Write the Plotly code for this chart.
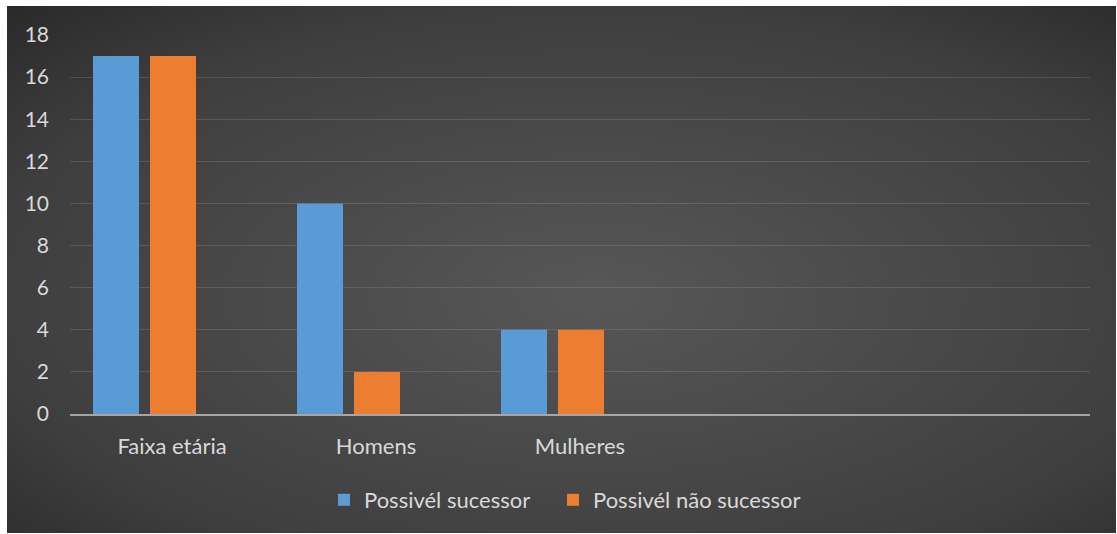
import base64
import plotly.graph_objects as go

# ---- data ----
categories = ["Faixa etária", "Homens", "Mulheres"]
series_names = ["Possivél sucessor", "Possivél não sucessor"]
possivel_sucessor = [17, 10, 4]
possivel_nao_sucessor = [17, 2, 4]
y_ticks = [0, 2, 4, 6, 8, 10, 12, 14, 16, 18]

W, H = 1117, 534
L, R, T, B = 70, 1090, 35, 414  # plot area in pixels
pw, ph = R - L, B - T

def px_x(p):
    return (p - L) / pw

def px_y(p):
    return (B - p) / ph

svg = (
    '<svg xmlns="http://www.w3.org/2000/svg" width="1109" height="527" preserveAspectRatio="none">'
    '<defs><radialGradient id="g" cx="0.53" cy="0.55" r="0.78">'
    '<stop offset="0" stop-color="#575757"/>'
    '<stop offset="0.7" stop-color="#3e3e3e"/>'
    '<stop offset="1" stop-color="#282828"/>'
    '</radialGradient></defs>'
    '<rect width="1109" height="527" fill="url(#g)"/></svg>'
)
bg_src = "data:image/svg+xml;base64," + base64.b64encode(svg.encode()).decode()

font_family = "Lato, Calibri, Carlito, sans-serif"
txt_color = "#d9d9d9"

fig = go.Figure()
fig.add_trace(go.Bar(
    x=categories, y=possivel_sucessor, name=series_names[0],
    marker=dict(color="#5b9bd5", line=dict(width=0)),
    width=46 / 204, offset=(93 - 172) / 204,
    legend="legend",
))
fig.add_trace(go.Bar(
    x=categories, y=possivel_nao_sucessor, name=series_names[1],
    marker=dict(color="#ed7d31", line=dict(width=0)),
    width=46 / 204, offset=(150 - 172) / 204,
    legend="legend2",
))

leg_common = dict(
    orientation="h", xanchor="left", y=px_y(500), yanchor="middle",
    font=dict(family=font_family, size=22, color=txt_color),
    bgcolor="rgba(0,0,0,0)",
)

fig.update_layout(
    width=W, height=H,
    margin=dict(l=L, r=W - R, t=T, b=H - B, pad=0),
    paper_bgcolor="white",
    plot_bgcolor="rgba(0,0,0,0)",
    barmode="group",
    font=dict(family=font_family, size=22, color=txt_color),
    showlegend=True,
    legend=dict(x=px_x(324), **leg_common),
    legend2=dict(x=px_x(553), **leg_common),
    xaxis=dict(
        type="category", range=[-0.5, 4.5],
        showgrid=False, zeroline=False,
        showline=True, linecolor="rgba(190,190,190,0.8)", linewidth=2,
        ticks="", ticklabelstandoff=12,
        tickfont=dict(family=font_family, size=22, color=txt_color),
        fixedrange=True,
    ),
    yaxis=dict(
        range=[0, 18], tickvals=y_ticks,
        showgrid=True, gridcolor="rgba(255,255,255,0.12)", gridwidth=1.3,
        zeroline=False, showline=False,
        ticks="", ticklabelstandoff=20,
        tickfont=dict(family=font_family, size=21, color=txt_color),
        fixedrange=True,
    ),
    images=[dict(
        source=bg_src, xref="paper", yref="paper",
        x=px_x(7), y=px_y(6), sizex=1109 / pw, sizey=527 / ph,
        xanchor="left", yanchor="top", sizing="stretch", layer="below",
    )],
)

fig.write_html("out.html", config={"displayModeBar": False})
